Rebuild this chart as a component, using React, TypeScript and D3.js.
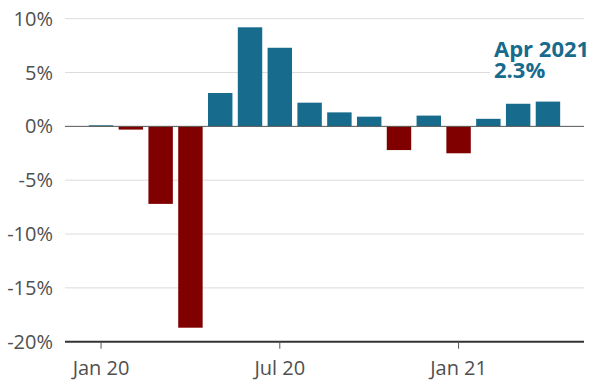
import React from "react";
import * as d3 from "d3";

const months = ["Jan 20","Feb 20","Mar 20","Apr 20","May 20","Jun 20","Jul 20","Aug 20","Sep 20","Oct 20","Nov 20","Dec 20","Jan 21","Feb 21","Mar 21","Apr 21"];
const values = [0.1,-0.3,-7.2,-18.7,3.1,9.2,7.3,2.2,1.3,0.9,-2.2,1.0,-2.5,0.7,2.1,2.3];
const yTicks = [10,5,0,-5,-10,-15,-20];
const xTickLabels = ["Jan 20","Jul 20","Jan 21"];
const annotation = ["Apr 2021","2.3%"];

const W = 602, H = 383;
const left = 65, right = 584, top = 18.7, bottom = 341.7;
const font = "'Open Sans', 'Noto Sans', sans-serif";
const blue = "#176b8c";
const red = "#800000";

export default function App() {
  const x = d3.scaleBand<string>().domain(months).range([left, right]).paddingInner(0.18).paddingOuter(0.8);
  const y = d3.scaleLinear().domain([-20, 10]).range([bottom, top]);
  return (
    <svg width={W} height={H} style={{ position: "absolute", left: 0, top: 0, background: "#fff" }}>
      {yTicks.map((t) => (
        <g key={t}>
          {t !== -20 && t !== 0 && (
            <line x1={left} x2={t === 5 ? 490 : right} y1={y(t)} y2={y(t)} stroke="#dcdcdc" strokeWidth={1} />
          )}
          <text x={53} y={y(t)} dy="0.35em" textAnchor="end" fontFamily={font} fontSize={20} fill="#505050">
            {t}%
          </text>
        </g>
      ))}
      {months.map((m, i) => {
        const v = values[i];
        return (
          <rect key={m} x={x(m)} width={x.bandwidth()} y={y(Math.max(0, v))} height={Math.abs(y(v) - y(0))}
            fill={v >= 0 ? blue : red} />
        );
      })}
      <line x1={left} x2={right} y1={y(0)} y2={y(0)} stroke="#555" strokeWidth={1} />
      <line x1={left} x2={right} y1={y(-20)} y2={y(-20)} stroke="#333" strokeWidth={2} />
      {xTickLabels.map((m) => {
        const cx = (x(m) as number) + x.bandwidth() / 2;
        return (
          <g key={m}>
            <line x1={cx} x2={cx} y1={y(-20)} y2={y(-20) + 7} stroke="#555" strokeWidth={1} />
            <text x={cx} y={375} textAnchor="middle" fontFamily={font} fontSize={20} fill="#505050">{m}</text>
          </g>
        );
      })}
      <text fontFamily={font} fontSize={22} fontWeight="bold" fill={blue}>
        <tspan x={494} y={56.7}>{annotation[0]}</tspan>
        <tspan x={494} y={78.3}>{annotation[1]}</tspan>
      </text>
    </svg>
  );
}
